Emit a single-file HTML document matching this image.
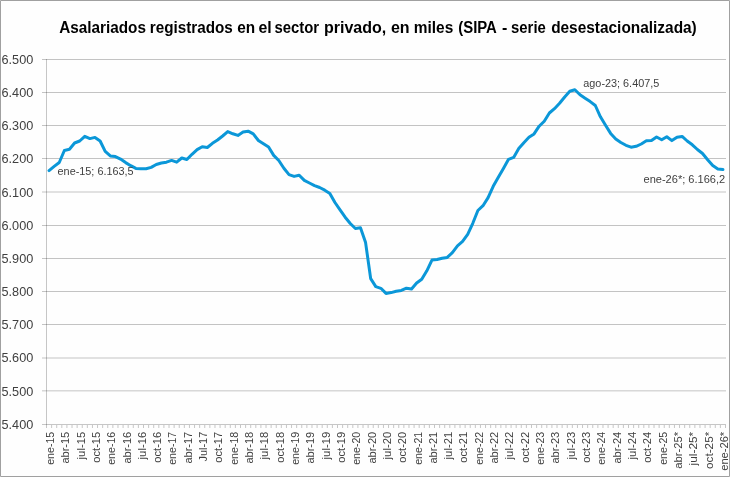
<!DOCTYPE html>
<html><head><meta charset="utf-8"><style>
html,body{margin:0;padding:0;background:#fefefe;}
svg{display:block;will-change:transform;}
text{font-family:"Liberation Sans",sans-serif;}
</style></head><body>
<svg width="730" height="477" viewBox="0 0 730 477">
<rect x="0" y="0" width="730" height="477" fill="#fefefe"/>

<line x1="42" y1="59.5" x2="726" y2="59.5" stroke="rgba(0,0,0,0.23)" stroke-width="1"/>
<line x1="42" y1="92.5" x2="726" y2="92.5" stroke="rgba(0,0,0,0.23)" stroke-width="1"/>
<line x1="42" y1="125.5" x2="726" y2="125.5" stroke="rgba(0,0,0,0.23)" stroke-width="1"/>
<line x1="42" y1="158.5" x2="726" y2="158.5" stroke="rgba(0,0,0,0.23)" stroke-width="1"/>
<line x1="42" y1="192.0" x2="726" y2="192.0" stroke="rgba(0,0,0,0.23)" stroke-width="1"/>
<line x1="42" y1="225.5" x2="726" y2="225.5" stroke="rgba(0,0,0,0.23)" stroke-width="1"/>
<line x1="42" y1="258.5" x2="726" y2="258.5" stroke="rgba(0,0,0,0.23)" stroke-width="1"/>
<line x1="42" y1="291.5" x2="726" y2="291.5" stroke="rgba(0,0,0,0.23)" stroke-width="1"/>
<line x1="42" y1="324.5" x2="726" y2="324.5" stroke="rgba(0,0,0,0.23)" stroke-width="1"/>
<line x1="42" y1="358.0" x2="726" y2="358.0" stroke="rgba(0,0,0,0.23)" stroke-width="1"/>
<line x1="42" y1="390.85" x2="726" y2="390.85" stroke="rgba(0,0,0,0.23)" stroke-width="1"/>
<line x1="46.5" y1="59" x2="46.5" y2="428" stroke="rgba(0,0,0,0.22)" stroke-width="1"/>
<line x1="42" y1="424.5" x2="726" y2="424.5" stroke="rgba(0,0,0,0.22)" stroke-width="1"/>
<path d="M51.61 425V428 M56.71 425V428 M61.82 425V428 M66.92 425V428 M72.03 425V428 M77.13 425V428 M82.24 425V428 M87.34 425V428 M92.45 425V428 M97.55 425V428 M102.66 425V428 M107.76 425V428 M112.87 425V428 M117.97 425V428 M123.08 425V428 M128.18 425V428 M133.29 425V428 M138.39 425V428 M143.50 425V428 M148.61 425V428 M153.71 425V428 M158.82 425V428 M163.92 425V428 M169.03 425V428 M174.13 425V428 M179.24 425V428 M184.34 425V428 M189.45 425V428 M194.55 425V428 M199.66 425V428 M204.76 425V428 M209.87 425V428 M214.97 425V428 M220.08 425V428 M225.18 425V428 M230.29 425V428 M235.39 425V428 M240.50 425V428 M245.61 425V428 M250.71 425V428 M255.82 425V428 M260.92 425V428 M266.03 425V428 M271.13 425V428 M276.24 425V428 M281.34 425V428 M286.45 425V428 M291.55 425V428 M296.66 425V428 M301.76 425V428 M306.87 425V428 M311.97 425V428 M317.08 425V428 M322.18 425V428 M327.29 425V428 M332.39 425V428 M337.50 425V428 M342.61 425V428 M347.71 425V428 M352.82 425V428 M357.92 425V428 M363.03 425V428 M368.13 425V428 M373.24 425V428 M378.34 425V428 M383.45 425V428 M388.55 425V428 M393.66 425V428 M398.76 425V428 M403.87 425V428 M408.97 425V428 M414.08 425V428 M419.18 425V428 M424.29 425V428 M429.39 425V428 M434.50 425V428 M439.61 425V428 M444.71 425V428 M449.82 425V428 M454.92 425V428 M460.03 425V428 M465.13 425V428 M470.24 425V428 M475.34 425V428 M480.45 425V428 M485.55 425V428 M490.66 425V428 M495.76 425V428 M500.87 425V428 M505.97 425V428 M511.08 425V428 M516.18 425V428 M521.29 425V428 M526.39 425V428 M531.50 425V428 M536.61 425V428 M541.71 425V428 M546.82 425V428 M551.92 425V428 M557.03 425V428 M562.13 425V428 M567.24 425V428 M572.34 425V428 M577.45 425V428 M582.55 425V428 M587.66 425V428 M592.76 425V428 M597.87 425V428 M602.97 425V428 M608.08 425V428 M613.18 425V428 M618.29 425V428 M623.39 425V428 M628.50 425V428 M633.61 425V428 M638.71 425V428 M643.82 425V428 M648.92 425V428 M654.03 425V428 M659.13 425V428 M664.24 425V428 M669.34 425V428 M674.45 425V428 M679.55 425V428 M684.66 425V428 M689.76 425V428 M694.87 425V428 M699.97 425V428 M705.08 425V428 M710.18 425V428 M715.29 425V428 M720.39 425V428 M725.50 425V428" stroke="rgba(0,0,0,0.22)" stroke-width="1" fill="none"/>
<text x="33.25" y="63.80" font-size="12.7" fill="#404040" text-anchor="end">6.500</text>
<text x="33.25" y="96.98" font-size="12.7" fill="#404040" text-anchor="end">6.400</text>
<text x="33.25" y="130.16" font-size="12.7" fill="#404040" text-anchor="end">6.300</text>
<text x="33.25" y="163.35" font-size="12.7" fill="#404040" text-anchor="end">6.200</text>
<text x="33.25" y="196.53" font-size="12.7" fill="#404040" text-anchor="end">6.100</text>
<text x="33.25" y="229.71" font-size="12.7" fill="#404040" text-anchor="end">6.000</text>
<text x="33.25" y="262.89" font-size="12.7" fill="#404040" text-anchor="end">5.900</text>
<text x="33.25" y="296.07" font-size="12.7" fill="#404040" text-anchor="end">5.800</text>
<text x="33.25" y="329.26" font-size="12.7" fill="#404040" text-anchor="end">5.700</text>
<text x="33.25" y="362.44" font-size="12.7" fill="#404040" text-anchor="end">5.600</text>
<text x="33.25" y="395.62" font-size="12.7" fill="#404040" text-anchor="end">5.500</text>
<text x="33.25" y="428.80" font-size="12.7" fill="#404040" text-anchor="end">5.400</text>
<text transform="translate(53.95,431.8) rotate(-90)" font-size="11.2" fill="#404040" text-anchor="end" textLength="33.00" lengthAdjust="spacingAndGlyphs">ene-15</text>
<text transform="translate(69.27,431.8) rotate(-90)" font-size="11.2" fill="#404040" text-anchor="end" textLength="31.80" lengthAdjust="spacingAndGlyphs">abr-15</text>
<text transform="translate(84.58,431.8) rotate(-90)" font-size="11.2" fill="#404040" text-anchor="end" textLength="27.60" lengthAdjust="spacingAndGlyphs">jul-15</text>
<text transform="translate(99.90,431.8) rotate(-90)" font-size="11.2" fill="#404040" text-anchor="end" textLength="30.90" lengthAdjust="spacingAndGlyphs">oct-15</text>
<text transform="translate(115.22,431.8) rotate(-90)" font-size="11.2" fill="#404040" text-anchor="end" textLength="33.00" lengthAdjust="spacingAndGlyphs">ene-16</text>
<text transform="translate(130.53,431.8) rotate(-90)" font-size="11.2" fill="#404040" text-anchor="end" textLength="31.80" lengthAdjust="spacingAndGlyphs">abr-16</text>
<text transform="translate(145.85,431.8) rotate(-90)" font-size="11.2" fill="#404040" text-anchor="end" textLength="27.60" lengthAdjust="spacingAndGlyphs">jul-16</text>
<text transform="translate(161.16,431.8) rotate(-90)" font-size="11.2" fill="#404040" text-anchor="end" textLength="30.90" lengthAdjust="spacingAndGlyphs">oct-16</text>
<text transform="translate(176.48,431.8) rotate(-90)" font-size="11.2" fill="#404040" text-anchor="end" textLength="33.00" lengthAdjust="spacingAndGlyphs">ene-17</text>
<text transform="translate(191.79,431.8) rotate(-90)" font-size="11.2" fill="#404040" text-anchor="end" textLength="31.80" lengthAdjust="spacingAndGlyphs">abr-17</text>
<text transform="translate(207.11,431.8) rotate(-90)" font-size="11.2" fill="#404040" text-anchor="end" textLength="29.60" lengthAdjust="spacingAndGlyphs">Jul-17</text>
<text transform="translate(222.43,431.8) rotate(-90)" font-size="11.2" fill="#404040" text-anchor="end" textLength="30.90" lengthAdjust="spacingAndGlyphs">oct-17</text>
<text transform="translate(237.74,431.8) rotate(-90)" font-size="11.2" fill="#404040" text-anchor="end" textLength="33.00" lengthAdjust="spacingAndGlyphs">ene-18</text>
<text transform="translate(253.06,431.8) rotate(-90)" font-size="11.2" fill="#404040" text-anchor="end" textLength="31.80" lengthAdjust="spacingAndGlyphs">abr-18</text>
<text transform="translate(268.37,431.8) rotate(-90)" font-size="11.2" fill="#404040" text-anchor="end" textLength="27.60" lengthAdjust="spacingAndGlyphs">jul-18</text>
<text transform="translate(283.69,431.8) rotate(-90)" font-size="11.2" fill="#404040" text-anchor="end" textLength="30.90" lengthAdjust="spacingAndGlyphs">oct-18</text>
<text transform="translate(299.01,431.8) rotate(-90)" font-size="11.2" fill="#404040" text-anchor="end" textLength="33.00" lengthAdjust="spacingAndGlyphs">ene-19</text>
<text transform="translate(314.32,431.8) rotate(-90)" font-size="11.2" fill="#404040" text-anchor="end" textLength="31.80" lengthAdjust="spacingAndGlyphs">abr-19</text>
<text transform="translate(329.64,431.8) rotate(-90)" font-size="11.2" fill="#404040" text-anchor="end" textLength="27.60" lengthAdjust="spacingAndGlyphs">jul-19</text>
<text transform="translate(344.95,431.8) rotate(-90)" font-size="11.2" fill="#404040" text-anchor="end" textLength="30.90" lengthAdjust="spacingAndGlyphs">oct-19</text>
<text transform="translate(360.27,431.8) rotate(-90)" font-size="11.2" fill="#404040" text-anchor="end" textLength="33.00" lengthAdjust="spacingAndGlyphs">ene-20</text>
<text transform="translate(375.58,431.8) rotate(-90)" font-size="11.2" fill="#404040" text-anchor="end" textLength="31.80" lengthAdjust="spacingAndGlyphs">abr-20</text>
<text transform="translate(390.90,431.8) rotate(-90)" font-size="11.2" fill="#404040" text-anchor="end" textLength="27.60" lengthAdjust="spacingAndGlyphs">jul-20</text>
<text transform="translate(406.22,431.8) rotate(-90)" font-size="11.2" fill="#404040" text-anchor="end" textLength="30.90" lengthAdjust="spacingAndGlyphs">oct-20</text>
<text transform="translate(421.53,431.8) rotate(-90)" font-size="11.2" fill="#404040" text-anchor="end" textLength="33.00" lengthAdjust="spacingAndGlyphs">ene-21</text>
<text transform="translate(436.85,431.8) rotate(-90)" font-size="11.2" fill="#404040" text-anchor="end" textLength="31.80" lengthAdjust="spacingAndGlyphs">abr-21</text>
<text transform="translate(452.16,431.8) rotate(-90)" font-size="11.2" fill="#404040" text-anchor="end" textLength="27.60" lengthAdjust="spacingAndGlyphs">jul-21</text>
<text transform="translate(467.48,431.8) rotate(-90)" font-size="11.2" fill="#404040" text-anchor="end" textLength="30.90" lengthAdjust="spacingAndGlyphs">oct-21</text>
<text transform="translate(482.79,431.8) rotate(-90)" font-size="11.2" fill="#404040" text-anchor="end" textLength="33.00" lengthAdjust="spacingAndGlyphs">ene-22</text>
<text transform="translate(498.11,431.8) rotate(-90)" font-size="11.2" fill="#404040" text-anchor="end" textLength="31.80" lengthAdjust="spacingAndGlyphs">abr-22</text>
<text transform="translate(513.43,431.8) rotate(-90)" font-size="11.2" fill="#404040" text-anchor="end" textLength="27.60" lengthAdjust="spacingAndGlyphs">jul-22</text>
<text transform="translate(528.74,431.8) rotate(-90)" font-size="11.2" fill="#404040" text-anchor="end" textLength="30.90" lengthAdjust="spacingAndGlyphs">oct-22</text>
<text transform="translate(544.06,431.8) rotate(-90)" font-size="11.2" fill="#404040" text-anchor="end" textLength="33.00" lengthAdjust="spacingAndGlyphs">ene-23</text>
<text transform="translate(559.37,431.8) rotate(-90)" font-size="11.2" fill="#404040" text-anchor="end" textLength="31.80" lengthAdjust="spacingAndGlyphs">abr-23</text>
<text transform="translate(574.69,431.8) rotate(-90)" font-size="11.2" fill="#404040" text-anchor="end" textLength="27.60" lengthAdjust="spacingAndGlyphs">jul-23</text>
<text transform="translate(590.01,431.8) rotate(-90)" font-size="11.2" fill="#404040" text-anchor="end" textLength="30.90" lengthAdjust="spacingAndGlyphs">oct-23</text>
<text transform="translate(605.32,431.8) rotate(-90)" font-size="11.2" fill="#404040" text-anchor="end" textLength="33.00" lengthAdjust="spacingAndGlyphs">ene-24</text>
<text transform="translate(620.64,431.8) rotate(-90)" font-size="11.2" fill="#404040" text-anchor="end" textLength="31.80" lengthAdjust="spacingAndGlyphs">abr-24</text>
<text transform="translate(635.95,431.8) rotate(-90)" font-size="11.2" fill="#404040" text-anchor="end" textLength="27.60" lengthAdjust="spacingAndGlyphs">jul-24</text>
<text transform="translate(651.27,431.8) rotate(-90)" font-size="11.2" fill="#404040" text-anchor="end" textLength="30.90" lengthAdjust="spacingAndGlyphs">oct-24</text>
<text transform="translate(666.58,431.8) rotate(-90)" font-size="11.2" fill="#404040" text-anchor="end" textLength="33.00" lengthAdjust="spacingAndGlyphs">ene-25</text>
<text transform="translate(681.90,431.8) rotate(-90)" font-size="11.2" fill="#404040" text-anchor="end" textLength="37.00" lengthAdjust="spacingAndGlyphs">abr-25*</text>
<text transform="translate(697.22,431.8) rotate(-90)" font-size="11.2" fill="#404040" text-anchor="end" textLength="33.60" lengthAdjust="spacingAndGlyphs">jul-25*</text>
<text transform="translate(712.53,431.8) rotate(-90)" font-size="11.2" fill="#404040" text-anchor="end" textLength="37.10" lengthAdjust="spacingAndGlyphs">oct-25*</text>
<text transform="translate(727.85,431.8) rotate(-90)" font-size="11.2" fill="#404040" text-anchor="end" textLength="39.00" lengthAdjust="spacingAndGlyphs">ene-26*</text>
<g font-size="16" font-weight="bold" fill="#000">
<text x="59.22" y="33.4" textLength="86.77" lengthAdjust="spacingAndGlyphs">Asalariados</text>
<text x="149.75" y="33.4" textLength="82.96" lengthAdjust="spacingAndGlyphs">registrados</text>
<text x="237.32" y="33.4" textLength="17.91" lengthAdjust="spacingAndGlyphs">en</text>
<text x="258.51" y="33.4" textLength="13.23" lengthAdjust="spacingAndGlyphs">el</text>
<text x="274.44" y="33.4" textLength="44.66" lengthAdjust="spacingAndGlyphs">sector</text>
<text x="323.95" y="33.4" textLength="62.23" lengthAdjust="spacingAndGlyphs">privado,</text>
<text x="390.9" y="33.4" textLength="18.67" lengthAdjust="spacingAndGlyphs">en</text>
<text x="413.84" y="33.4" textLength="39.45" lengthAdjust="spacingAndGlyphs">miles</text>
<text x="458.26" y="33.4" textLength="38.58" lengthAdjust="spacingAndGlyphs">(SIPA</text>
<text x="501.95" y="33.4" textLength="5.33" lengthAdjust="spacingAndGlyphs">-</text>
<text x="511.06" y="33.4" textLength="34.75" lengthAdjust="spacingAndGlyphs">serie</text>
<text x="551.13" y="33.4" textLength="145.62" lengthAdjust="spacingAndGlyphs">desestacionalizada)</text>
</g>
<polyline points="49.05,170.6 54.16,166.4 59.26,162.5 64.37,150.5 69.47,149.3 74.58,143.0 79.68,141.0 84.79,136.3 89.89,138.6 95.00,137.4 100.11,141.0 105.21,151.4 110.32,155.9 115.42,156.6 120.53,159.1 125.63,162.6 130.74,165.7 135.84,168.4 140.95,168.8 146.05,168.8 151.16,167.4 156.26,164.5 161.37,163 166.47,162.2 171.58,160.4 176.68,162.2 181.79,158 186.89,159.5 192.00,154.3 197.11,149.6 202.21,146.7 207.32,147.5 212.42,143.3 217.53,140 222.63,136 227.74,131.6 232.84,133.8 237.95,135.4 243.05,132.1 248.16,131.2 253.26,133.9 258.37,140.5 263.47,143.8 268.58,147 273.68,155.4 278.79,160.5 283.89,168.3 289.00,174.6 294.11,176.4 299.21,175.2 304.32,180.4 309.42,183 314.53,185.6 319.63,187.5 324.74,190.2 329.84,193.4 334.95,202.5 340.05,209.9 345.16,217.2 350.26,223.5 355.37,228.5 360.47,227.7 365.58,242.6 370.68,278.6 375.79,286.6 380.89,288.3 386.00,293.4 391.11,292.6 396.21,291.3 401.32,290.4 406.42,288.2 411.53,289 416.63,283 421.74,279.2 426.84,270.8 431.95,260.1 437.05,259.5 442.16,258.2 447.26,257.4 452.37,252.6 457.47,245.8 462.58,241.4 467.68,234.3 472.79,223.3 477.89,210.5 483.00,205.7 488.11,197.6 493.21,186.3 498.32,177.2 503.42,168.4 508.53,159.3 513.63,157.4 518.74,148.6 523.84,142.7 528.95,137.3 534.05,133.9 539.16,126.2 544.26,121.2 549.37,113 554.47,108.7 559.58,103.3 564.68,97 569.79,91.3 574.89,89.8 580.00,94.8 585.11,98.2 590.21,101.6 595.32,105.5 600.42,116.8 605.53,125.3 610.63,133.4 615.74,139 620.84,142.5 625.95,145.3 631.05,147.2 636.16,146.3 641.26,144 646.37,140.8 651.47,140.6 656.58,137 661.68,139.8 666.79,136.7 671.89,140.6 677.00,137.2 682.11,136.4 687.21,141 692.32,144.8 697.42,149.5 702.53,153.5 707.63,159.7 712.74,165.6 717.84,169 722.95,169.5" fill="none" stroke="#0b97d8" stroke-width="3" stroke-linejoin="round" stroke-linecap="round"/>
<text x="57.6" y="174.9" font-size="10.85" fill="#404040">ene-15; 6.163,5</text>
<text x="583.3" y="87.0" font-size="10.85" fill="#404040">ago-23; 6.407,5</text>
<text x="643.5" y="182.5" font-size="11.05" fill="#404040">ene-26*; 6.166,2</text>
<path d="M0.5 0.5H729.5V476.5H0.5Z" fill="none" stroke="#a0a0a0" stroke-width="1"/>
</svg>
</body></html>
